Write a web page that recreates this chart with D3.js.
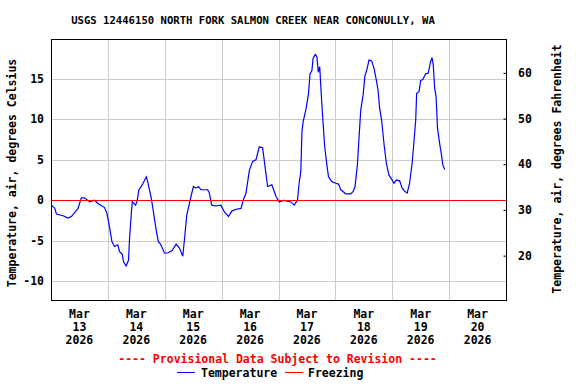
<!DOCTYPE html>
<html>
<head>
<meta charset="utf-8">
<script src="https://cdn.jsdelivr.net/npm/d3@7"></script>
<style>
  body { margin: 0; background: #fff; }
  text { font-family: "DejaVu Sans Mono", monospace; font-weight: bold; }
</style>
</head>
<body>
<div id="chart"></div>
<script>
// hours after 2026-03-13 00:00 and air temperature in deg C
var hours = [0.2, 1.6, 2.3, 5.1, 7.2, 8.6, 11.4, 12.8, 14.2, 16.3, 18.4, 19.8, 22.6, 23.6,
  24.7, 25.7, 26.8, 28.2, 28.9, 30.1, 30.6, 31.7, 32.7, 33.1, 33.9, 34.3, 35.7, 36.4, 37.1,
  38.5, 40.2, 40.8, 42.3, 43.2, 44.4, 45.3, 46.2, 47.9, 49.3, 51.1, 52.8, 54.2, 55.6, 56.3,
  57.3, 58.4, 59.1, 60.1, 61.2, 62.2, 63.3, 66.1, 66.8, 67.8, 69.6, 71.7, 73.1, 74.9, 76.4,
  78.1, 80.2, 81.1, 82.3, 83.7, 85.1, 86.5, 87.9, 89.3, 90.7, 91.4, 93.2, 94.9, 96.3, 98.4,
  101.2, 102.6, 104.0, 104.7, 105.4, 105.9, 106.4, 107.5, 108.6, 109.3, 110.1, 110.6, 111.5,
  112.2, 112.8, 113.4, 113.9, 114.5, 115.5, 116.4, 117.1, 118.5, 120.2, 121.3, 122.3, 124.4,
  126.5, 127.5, 128.3, 129.3, 130.0, 130.7, 131.7, 132.5, 133.2, 134.2, 135.3, 136.3, 137.3,
  138.0, 138.7, 139.5, 140.5, 141.5, 142.6, 144.0, 144.7, 145.7, 147.1, 148.2, 149.3, 150.3,
  151.3, 152.4, 153.1, 153.9, 154.3, 155.3, 156.0, 156.9, 158.1, 159.2, 160.2, 160.8, 161.3,
  161.9, 162.5, 163.1, 164.1, 164.8, 165.3, 166.1];
var tempC = [-0.6, -1.0, -1.7, -1.9, -2.2, -2.0, -1.0, 0.3, 0.3, -0.2, 0.0, -0.4, -0.9, -1.6,
  -3.3, -5.1, -5.7, -5.5, -6.3, -6.7, -7.6, -8.1, -7.4, -4.9, -1.6, -0.2, -0.6, 0.0, 1.3,
  1.9, 2.9, 2.3, 0.3, -1.4, -3.7, -5.1, -5.4, -6.5, -6.5, -6.2, -5.4, -5.9, -6.9, -4.9,
  -1.8, -0.4, 0.5, 1.7, 1.5, 1.7, 1.3, 1.3, 0.9, -0.6, -0.7, -0.6, -1.4, -2.0, -1.3,
  -1.1, -1.0, 0.0, 0.9, 3.7, 4.8, 5.0, 6.6, 6.5, 3.3, 1.7, 1.9, 0.5, -0.2, 0.0,
  -0.2, -0.6, 0.0, 2.1, 3.5, 8.5, 9.7, 11.1, 13.0, 15.6, 16.0, 17.5, 18.0,
  17.7, 15.8, 16.5, 13.8, 10.9, 6.6, 4.4, 2.9, 2.3, 2.1, 2.0, 1.3, 0.8,
  0.8, 1.1, 1.7, 4.4, 7.8, 11.1, 13.0, 15.4, 16.0, 17.3, 17.2, 16.3, 14.8,
  13.6, 11.3, 9.9, 7.0, 4.6, 3.1, 2.5, 2.1, 2.5, 2.4, 1.5, 1.1, 0.9,
  2.1, 4.6, 7.0, 9.9, 13.2, 13.4, 14.8, 14.9, 15.6, 15.7, 17.1, 17.6, 16.7,
  13.8, 12.8, 8.9, 6.8, 5.6, 4.4, 3.8];

var dayLabels = ["13", "14", "15", "16", "17", "18", "19", "20"];
var celsiusTicks = [-10, -5, 0, 5, 10, 15];
var fahrenheitTicks = [20, 30, 40, 50, 60];
var freezingC = 0;

(function() {
  var width = 576, height = 384;
  var pLeft = 51, pRight = 506, pTop = 39, pBottom = 300;
  var start = new Date(2026, 2, 13);

  var svg = d3.select("#chart").append("svg")
    .attr("width", width)
    .attr("height", height);

  var x = d3.scaleTime()
    .domain([start, d3.timeDay.offset(start, 8)])
    .range([pLeft, pRight]);
  var y = d3.scaleLinear().domain([-12.3, 19.9]).range([pBottom, pTop]);
  var yF = d3.scaleLinear().domain([10.3, 67.4]).range([pBottom, pTop]);

  var data = hours.map(function(h, i) {
    return { t: d3.timeMinute.offset(start, Math.round(h * 60)), v: tempC[i] };
  });

  // grid
  var days = d3.range(1, 8).map(function(i) { return d3.timeDay.offset(start, i); });
  svg.append("g").selectAll("line").data(days).enter().append("line")
    .attr("x1", function(d) { return Math.round(x(d)) + 0.5; })
    .attr("x2", function(d) { return Math.round(x(d)) + 0.5; })
    .attr("y1", pTop).attr("y2", pBottom)
    .attr("stroke", "#cccccc");
  svg.append("g").selectAll("line").data(celsiusTicks).enter().append("line")
    .attr("x1", pLeft).attr("x2", pRight)
    .attr("y1", function(d) { return Math.round(y(d)) + 0.5; })
    .attr("y2", function(d) { return Math.round(y(d)) + 0.5; })
    .attr("stroke", "#cccccc");

  // temperature line
  svg.append("path")
    .datum(data)
    .attr("fill", "none")
    .attr("stroke", "#0000ff")
    .attr("stroke-width", 1.2)
    .attr("d", d3.line()
      .x(function(d) { return x(d.t); })
      .y(function(d) { return y(d.v); }));

  // freezing
  svg.append("line")
    .attr("x1", pLeft).attr("x2", pRight)
    .attr("y1", Math.round(y(freezingC)) + 0.5)
    .attr("y2", Math.round(y(freezingC)) + 0.5)
    .attr("stroke", "#ff0000");

  // frame
  svg.append("rect")
    .attr("x", pLeft + 0.5).attr("y", pTop + 0.5)
    .attr("width", pRight - pLeft).attr("height", pBottom - pTop)
    .attr("fill", "none").attr("stroke", "#000");

  // left axis labels
  svg.append("g").selectAll("text").data(celsiusTicks).enter().append("text")
    .attr("x", 44)
    .attr("y", function(d) { return y(d) + 4; })
    .attr("text-anchor", "end")
    .attr("font-size", "11.5px")
    .text(function(d) { return d; });

  // right axis
  var rAxis = svg.append("g")
    .attr("transform", "translate(" + (pRight + 0.5) + ",0)")
    .call(d3.axisLeft(yF).tickValues(fahrenheitTicks).tickSize(3).tickFormat(""));
  rAxis.select(".domain").remove();
  rAxis.selectAll("line").attr("stroke", "#000");
  svg.append("g").selectAll("text").data(fahrenheitTicks).enter().append("text")
    .attr("x", 518)
    .attr("y", function(d) { return yF(d) + 4; })
    .attr("font-size", "11.5px")
    .text(function(d) { return d; });

  // x labels at noon
  var xl = svg.append("g").selectAll("text").data(dayLabels).enter().append("text")
    .attr("text-anchor", "middle")
    .attr("font-size", "11.5px")
    .attr("transform", function(d, i) {
      return "translate(" + x(d3.timeHour.offset(start, i * 24 + 12)) + ",0)";
    });
  xl.append("tspan").attr("x", 0).attr("y", 318).text("Mar");
  xl.append("tspan").attr("x", 0).attr("y", 331).text(function(d) { return d; });
  xl.append("tspan").attr("x", 0).attr("y", 344).text("2026");

  // titles
  svg.append("text")
    .attr("x", 253).attr("y", 24)
    .attr("text-anchor", "middle")
    .attr("font-size", "10.6px")
    .text("USGS 12446150 NORTH FORK SALMON CREEK NEAR CONCONULLY, WA");

  svg.append("text")
    .attr("transform", "translate(15.5,173) rotate(-90)")
    .attr("text-anchor", "middle")
    .attr("font-size", "11.5px")
    .text("Temperature, air, degrees Celsius");

  svg.append("text")
    .attr("transform", "translate(561,169) rotate(-90)")
    .attr("text-anchor", "middle")
    .attr("font-size", "11.5px")
    .text("Temperature, air, degrees Fahrenheit");

  svg.append("text")
    .attr("x", 277.5).attr("y", 363)
    .attr("text-anchor", "middle")
    .attr("font-size", "11.5px")
    .attr("fill", "#ff0000")
    .text("---- Provisional Data Subject to Revision ----");

  // legend
  var legend = [
    { label: "Temperature", color: "#0000ff", x1: 177, x2: 195, tx: 201 },
    { label: "Freezing", color: "#ff0000", x1: 285, x2: 303, tx: 308 }
  ];
  var lg = svg.append("g").selectAll("g").data(legend).enter().append("g");
  lg.append("line")
    .attr("x1", function(d) { return d.x1; })
    .attr("x2", function(d) { return d.x2; })
    .attr("y1", 372.5).attr("y2", 372.5)
    .attr("stroke", function(d) { return d.color; });
  lg.append("text")
    .attr("x", function(d) { return d.tx; })
    .attr("y", 377)
    .attr("font-size", "11.5px")
    .text(function(d) { return d.label; });
})();
</script>
</body>
</html>
